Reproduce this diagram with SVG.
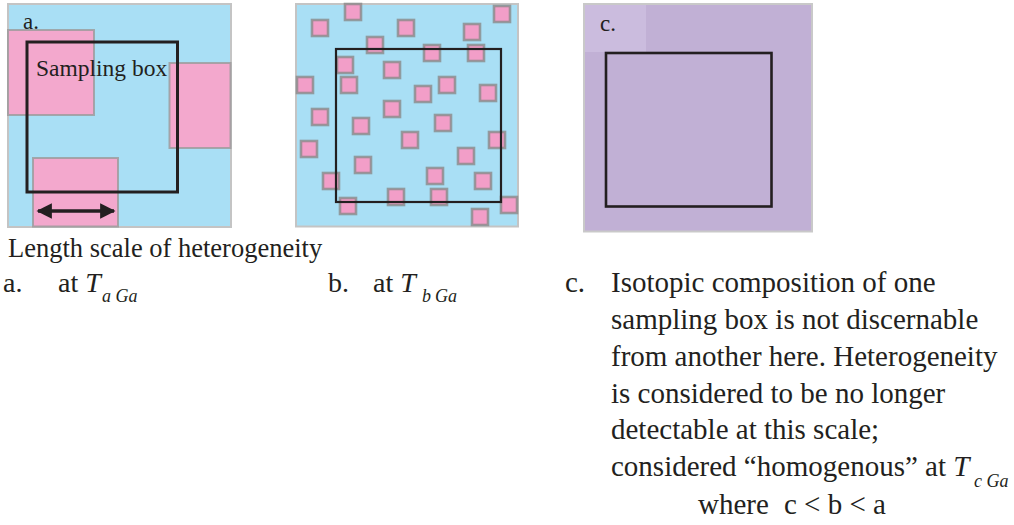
<svg xmlns="http://www.w3.org/2000/svg" width="1014" height="525" viewBox="0 0 1014 525">
  <style>
    text { font-family: "Liberation Serif", "Times New Roman", serif; fill: #231f20; }
    .bg-blue { fill: #a9dff5; stroke: #c4c4c4; stroke-width: 2; }
    .bg-purple { fill: #c1b0d5; stroke: #c9c9c9; stroke-width: 2; }
    .blob { fill: #f3a8cd; stroke: #9a9a9a; stroke-width: 2; stroke-opacity: 0.8; }
    .grain { fill: #f29ec8; stroke: #8a8a8a; stroke-width: 2.6; stroke-opacity: 0.8; }
    .box { fill: none; stroke: #231f20; }
    .it { font-style: italic; }
    .sub { font-style: italic; font-size: 18px; }
  </style>
  <defs>
    <marker id="head" viewBox="0 0 10 10" refX="9" refY="5" markerWidth="4.8" markerHeight="4.4" orient="auto-start-reverse" markerUnits="strokeWidth">
      <path d="M0,0 L10,5 L0,10 Z" fill="#231f20"/>
    </marker>
  </defs>

  <!-- Panel a: coarse heterogeneity -->
  <g id="panel-a">
    <rect class="bg-blue" x="8" y="4" width="223" height="223"/>
    <rect class="blob" x="8" y="30" width="86" height="85"/>
    <rect class="blob" x="169.5" y="63" width="61" height="85"/>
    <rect class="blob" x="33" y="158" width="85" height="68.5"/>
    <rect class="box" x="27" y="42" width="150.5" height="150" stroke-width="3"/>
    <text x="23" y="29" font-size="23">a.</text>
    <text x="36" y="76" font-size="23.5">Sampling box</text>
    <line x1="38" y1="211" x2="114" y2="211" stroke="#231f20" stroke-width="3.5" marker-start="url(#head)" marker-end="url(#head)"/>
  </g>

  <!-- Panel b: fine heterogeneity -->
  <g id="panel-b">
    <rect class="bg-blue" x="296" y="4" width="222" height="222.5"/>
    <g>
      <rect class="grain" x="345" y="4" width="16" height="16"/>
      <rect class="grain" x="312" y="20" width="16" height="16"/>
      <rect class="grain" x="494" y="6" width="16" height="16"/>
      <rect class="grain" x="398" y="20" width="16" height="16"/>
      <rect class="grain" x="464" y="24" width="16" height="16"/>
      <rect class="grain" x="367" y="37" width="16" height="16"/>
      <rect class="grain" x="424" y="45" width="16" height="16"/>
      <rect class="grain" x="468" y="45" width="16" height="16"/>
      <rect class="grain" x="337" y="57" width="16" height="16"/>
      <rect class="grain" x="384" y="62" width="16" height="16"/>
      <rect class="grain" x="297" y="77" width="16" height="16"/>
      <rect class="grain" x="341" y="77" width="16" height="16"/>
      <rect class="grain" x="439" y="77" width="16" height="16"/>
      <rect class="grain" x="415" y="86" width="16" height="16"/>
      <rect class="grain" x="480" y="85" width="16" height="16"/>
      <rect class="grain" x="384" y="101" width="16" height="16"/>
      <rect class="grain" x="312" y="109" width="16" height="16"/>
      <rect class="grain" x="353" y="118" width="16" height="16"/>
      <rect class="grain" x="435" y="115" width="16" height="16"/>
      <rect class="grain" x="402" y="132" width="16" height="16"/>
      <rect class="grain" x="489" y="132" width="16" height="16"/>
      <rect class="grain" x="301" y="141" width="16" height="16"/>
      <rect class="grain" x="458" y="148" width="16" height="16"/>
      <rect class="grain" x="355" y="157" width="16" height="16"/>
      <rect class="grain" x="427" y="168" width="16" height="16"/>
      <rect class="grain" x="323" y="173" width="16" height="16"/>
      <rect class="grain" x="475" y="173" width="16" height="16"/>
      <rect class="grain" x="388" y="189" width="16" height="16"/>
      <rect class="grain" x="431" y="189" width="16" height="16"/>
      <rect class="grain" x="340" y="198" width="16" height="16"/>
      <rect class="grain" x="501" y="197" width="16" height="16"/>
      <rect class="grain" x="472" y="209" width="16" height="16"/>
    </g>
    <rect class="box" x="336" y="49" width="165" height="153" stroke-width="2.2"/>
  </g>

  <!-- Panel c: homogeneous at this scale -->
  <g id="panel-c">
    <rect class="bg-purple" x="584" y="4" width="228" height="227.5"/>
    <rect x="585" y="5" width="61" height="47" fill="#cbbcde"/>
    <text x="600" y="31" font-size="23">c.</text>
    <rect class="box" x="606" y="53" width="165.5" height="153.5" stroke-width="2.6"/>
  </g>

  <!-- Captions -->
  <g id="captions">
    <text x="8" y="257" font-size="26.5">Length scale of heterogeneity</text>

    <text x="3" y="292" font-size="28">a.</text>
    <text x="58" y="292" font-size="28">at <tspan class="it">T</tspan></text>
    <text x="102" y="302" class="sub">a Ga</text>

    <text x="328" y="292" font-size="28">b.</text>
    <text x="373" y="292" font-size="28">at <tspan class="it">T</tspan></text>
    <text x="422" y="302" class="sub">b</text>
    <text x="435" y="302" class="sub">Ga</text>

    <text x="565" y="292" font-size="29">c.</text>
    <text font-size="29">
      <tspan x="611" y="292">Isotopic composition of one</tspan>
      <tspan x="611" y="328.8">sampling box is not discernable</tspan>
      <tspan x="611" y="365.7">from another here. Heterogeneity</tspan>
      <tspan x="611" y="402.5">is considered to be no longer</tspan>
      <tspan x="611" y="439.3">detectable at this scale;</tspan>
      <tspan x="611" y="476.2">considered “homogenous” at <tspan class="it">T</tspan></tspan>
    </text>
    <text x="974" y="486.5" class="sub">c Ga</text>
    <text y="514" font-size="29"><tspan x="698">where</tspan><tspan x="784">c &lt; b &lt; a</tspan></text>
  </g>
</svg>
